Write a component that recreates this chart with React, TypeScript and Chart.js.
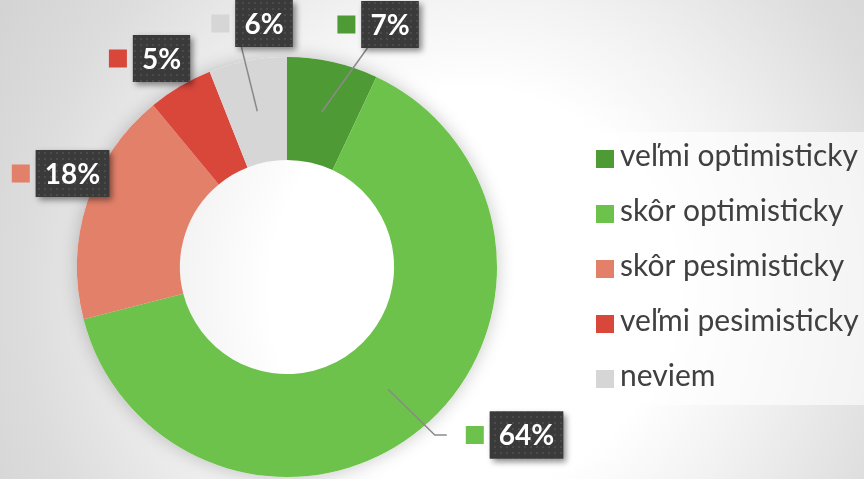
import React, { useEffect, useRef } from 'react';
import { Chart, registerables } from 'chart.js';

Chart.register(...registerables);

const categories = ['veľmi optimisticky', 'skôr optimisticky', 'skôr pesimisticky', 'veľmi pesimisticky', 'neviem'];
const values = [7, 64, 18, 5, 6];
const valueLabels = ['7%', '64%', '18%', '5%', '6%'];
const colors = ['#4e9a34', '#6cc24a', '#e2806a', '#d9473b', '#d6d6d6'];

// label box centre, relative to the doughnut centre, and leader-line style
const labelOffsets = [[103, -242.5], [239.5, 168], [-214.5, -93.5], [-125.5, -208.5], [-23, -243.5]];
const leaderStyles = ['bottom', 'elbow', 'none', 'none', 'bottom'];

const W = 864;
const H = 479;

function makePattern(ctx: CanvasRenderingContext2D) {
  const c = document.createElement('canvas');
  c.width = 6;
  c.height = 6;
  const p = c.getContext('2d')!;
  p.fillStyle = '#3a3a3a';
  p.fillRect(0, 0, 6, 6);
  p.fillStyle = '#4b4b4b';
  p.fillRect(2, 2, 2, 2);
  return ctx.createPattern(c, 'repeat');
}

const ringShadow = {
  id: 'ringShadow',
  beforeDatasetsDraw(chart: any) {
    const arc = chart.getDatasetMeta(0).data[0];
    if (!arc) return;
    const { x, y, outerRadius } = arc.getProps(['x', 'y', 'outerRadius'], true);
    const ctx = chart.ctx;
    ctx.save();
    ctx.beginPath();
    ctx.rect(0, 0, W, H);
    ctx.arc(x, y, outerRadius, 0, Math.PI * 2, true);
    ctx.clip();
    ctx.shadowColor = 'rgba(0,0,0,0.22)';
    ctx.shadowBlur = 18;
    ctx.fillStyle = '#ffffff';
    ctx.beginPath();
    ctx.arc(x, y, outerRadius, 0, Math.PI * 2);
    ctx.fill();
    ctx.restore();
  },
};

const legendPlugin = {
  id: 'customLegend',
  beforeDraw(chart: any) {
    const ctx = chart.ctx;
    ctx.save();
    ctx.fillStyle = 'rgba(255,255,255,0.6)';
    ctx.fillRect(581, 132, W - 581, 273);
    ctx.restore();
  },
  afterDraw(chart: any) {
    const ctx = chart.ctx;
    ctx.save();
    categories.forEach((c, i) => {
      const top = 150 + i * 55;
      ctx.fillStyle = colors[i];
      ctx.fillRect(596, top, 18, 18);
      ctx.fillStyle = '#404040';
      ctx.font = '30px Lato';
      ctx.textBaseline = 'alphabetic';
      ctx.textAlign = 'left';
      ctx.fillText(c, 620, top + 16);
    });
    ctx.restore();
  },
};

const labelPlugin = {
  id: 'valueLabels',
  afterDatasetsDraw(chart: any) {
    const ctx = chart.ctx as CanvasRenderingContext2D;
    const meta = chart.getDatasetMeta(0);
    const pattern = makePattern(ctx);
    meta.data.forEach((arc: any, i: number) => {
      const { x, y, startAngle, endAngle, innerRadius, outerRadius } = arc.getProps(
        ['x', 'y', 'startAngle', 'endAngle', 'innerRadius', 'outerRadius'],
        true
      );
      const mid = (startAngle + endAngle) / 2;
      const r = (innerRadius + outerRadius) / 2;
      const px = x + Math.cos(mid) * r;
      const py = y + Math.sin(mid) * r;
      ctx.save();
      ctx.font = 'bold 28px Lato';
      const tw = ctx.measureText(valueLabels[i]).width;
      const bw = tw + 18;
      const bh = 47;
      const cx = x + labelOffsets[i][0];
      const cy = y + labelOffsets[i][1];
      const bx = cx - bw / 2;
      const by = cy - bh / 2;
      const sqLeft = bx - 24;

      // leader
      ctx.strokeStyle = '#8a8a8a';
      ctx.lineWidth = 1.5;
      if (leaderStyles[i] === 'bottom') {
        ctx.beginPath();
        ctx.moveTo(px, py);
        ctx.lineTo(bx + 6, by + bh);
        ctx.stroke();
      } else if (leaderStyles[i] === 'elbow') {
        ctx.beginPath();
        ctx.moveTo(px, py);
        ctx.lineTo(sqLeft - 31, cy);
        ctx.lineTo(sqLeft - 19, cy);
        ctx.stroke();
      }

      // box with shadow
      ctx.save();
      ctx.shadowColor = 'rgba(0,0,0,0.45)';
      ctx.shadowBlur = 6;
      ctx.shadowOffsetX = 3;
      ctx.shadowOffsetY = 3;
      ctx.fillStyle = '#3a3a3a';
      ctx.fillRect(bx, by, bw, bh);
      ctx.restore();
      if (pattern) {
        ctx.fillStyle = pattern;
        ctx.fillRect(bx, by, bw, bh);
      }

      // colour square
      ctx.fillStyle = colors[i];
      ctx.fillRect(sqLeft, cy - 9, 18, 18);

      // text
      ctx.fillStyle = '#ffffff';
      ctx.textAlign = 'center';
      ctx.textBaseline = 'middle';
      ctx.fillText(valueLabels[i], cx, cy + 1);
      ctx.restore();
    });
  },
};

export default function App() {
  const ref = useRef<HTMLCanvasElement>(null);
  useEffect(() => {
    document.body.style.margin = '0';
    const canvas = ref.current!;
    const chart = new Chart(canvas, {
      type: 'doughnut',
      data: {
        labels: categories,
        datasets: [
          {
            data: values,
            backgroundColor: colors,
            borderWidth: 0,
          },
        ],
      },
      options: {
        responsive: false,
        animation: false,
        devicePixelRatio: 1,
        cutout: '51%',
        layout: { padding: { left: 77, right: W - 497, top: 57, bottom: 2 } },
        plugins: {
          legend: { display: false },
          tooltip: { enabled: false },
        },
      },
      plugins: [ringShadow, legendPlugin, labelPlugin],
    });
    return () => chart.destroy();
  }, []);
  return (
    <div
      style={{
        position: 'fixed',
        left: 0,
        top: 0,
        width: W,
        height: H,
        overflow: 'hidden',
        background:
          'radial-gradient(circle at 470px 290px, #ffffff 0px, #ffffff 200px, #f2f2f2 300px, #dcdcdc 450px, #cfcfcf 600px)',
      }}
    >
      <canvas ref={ref} width={W} height={H} style={{ display: 'block' }} />
    </div>
  );
}
